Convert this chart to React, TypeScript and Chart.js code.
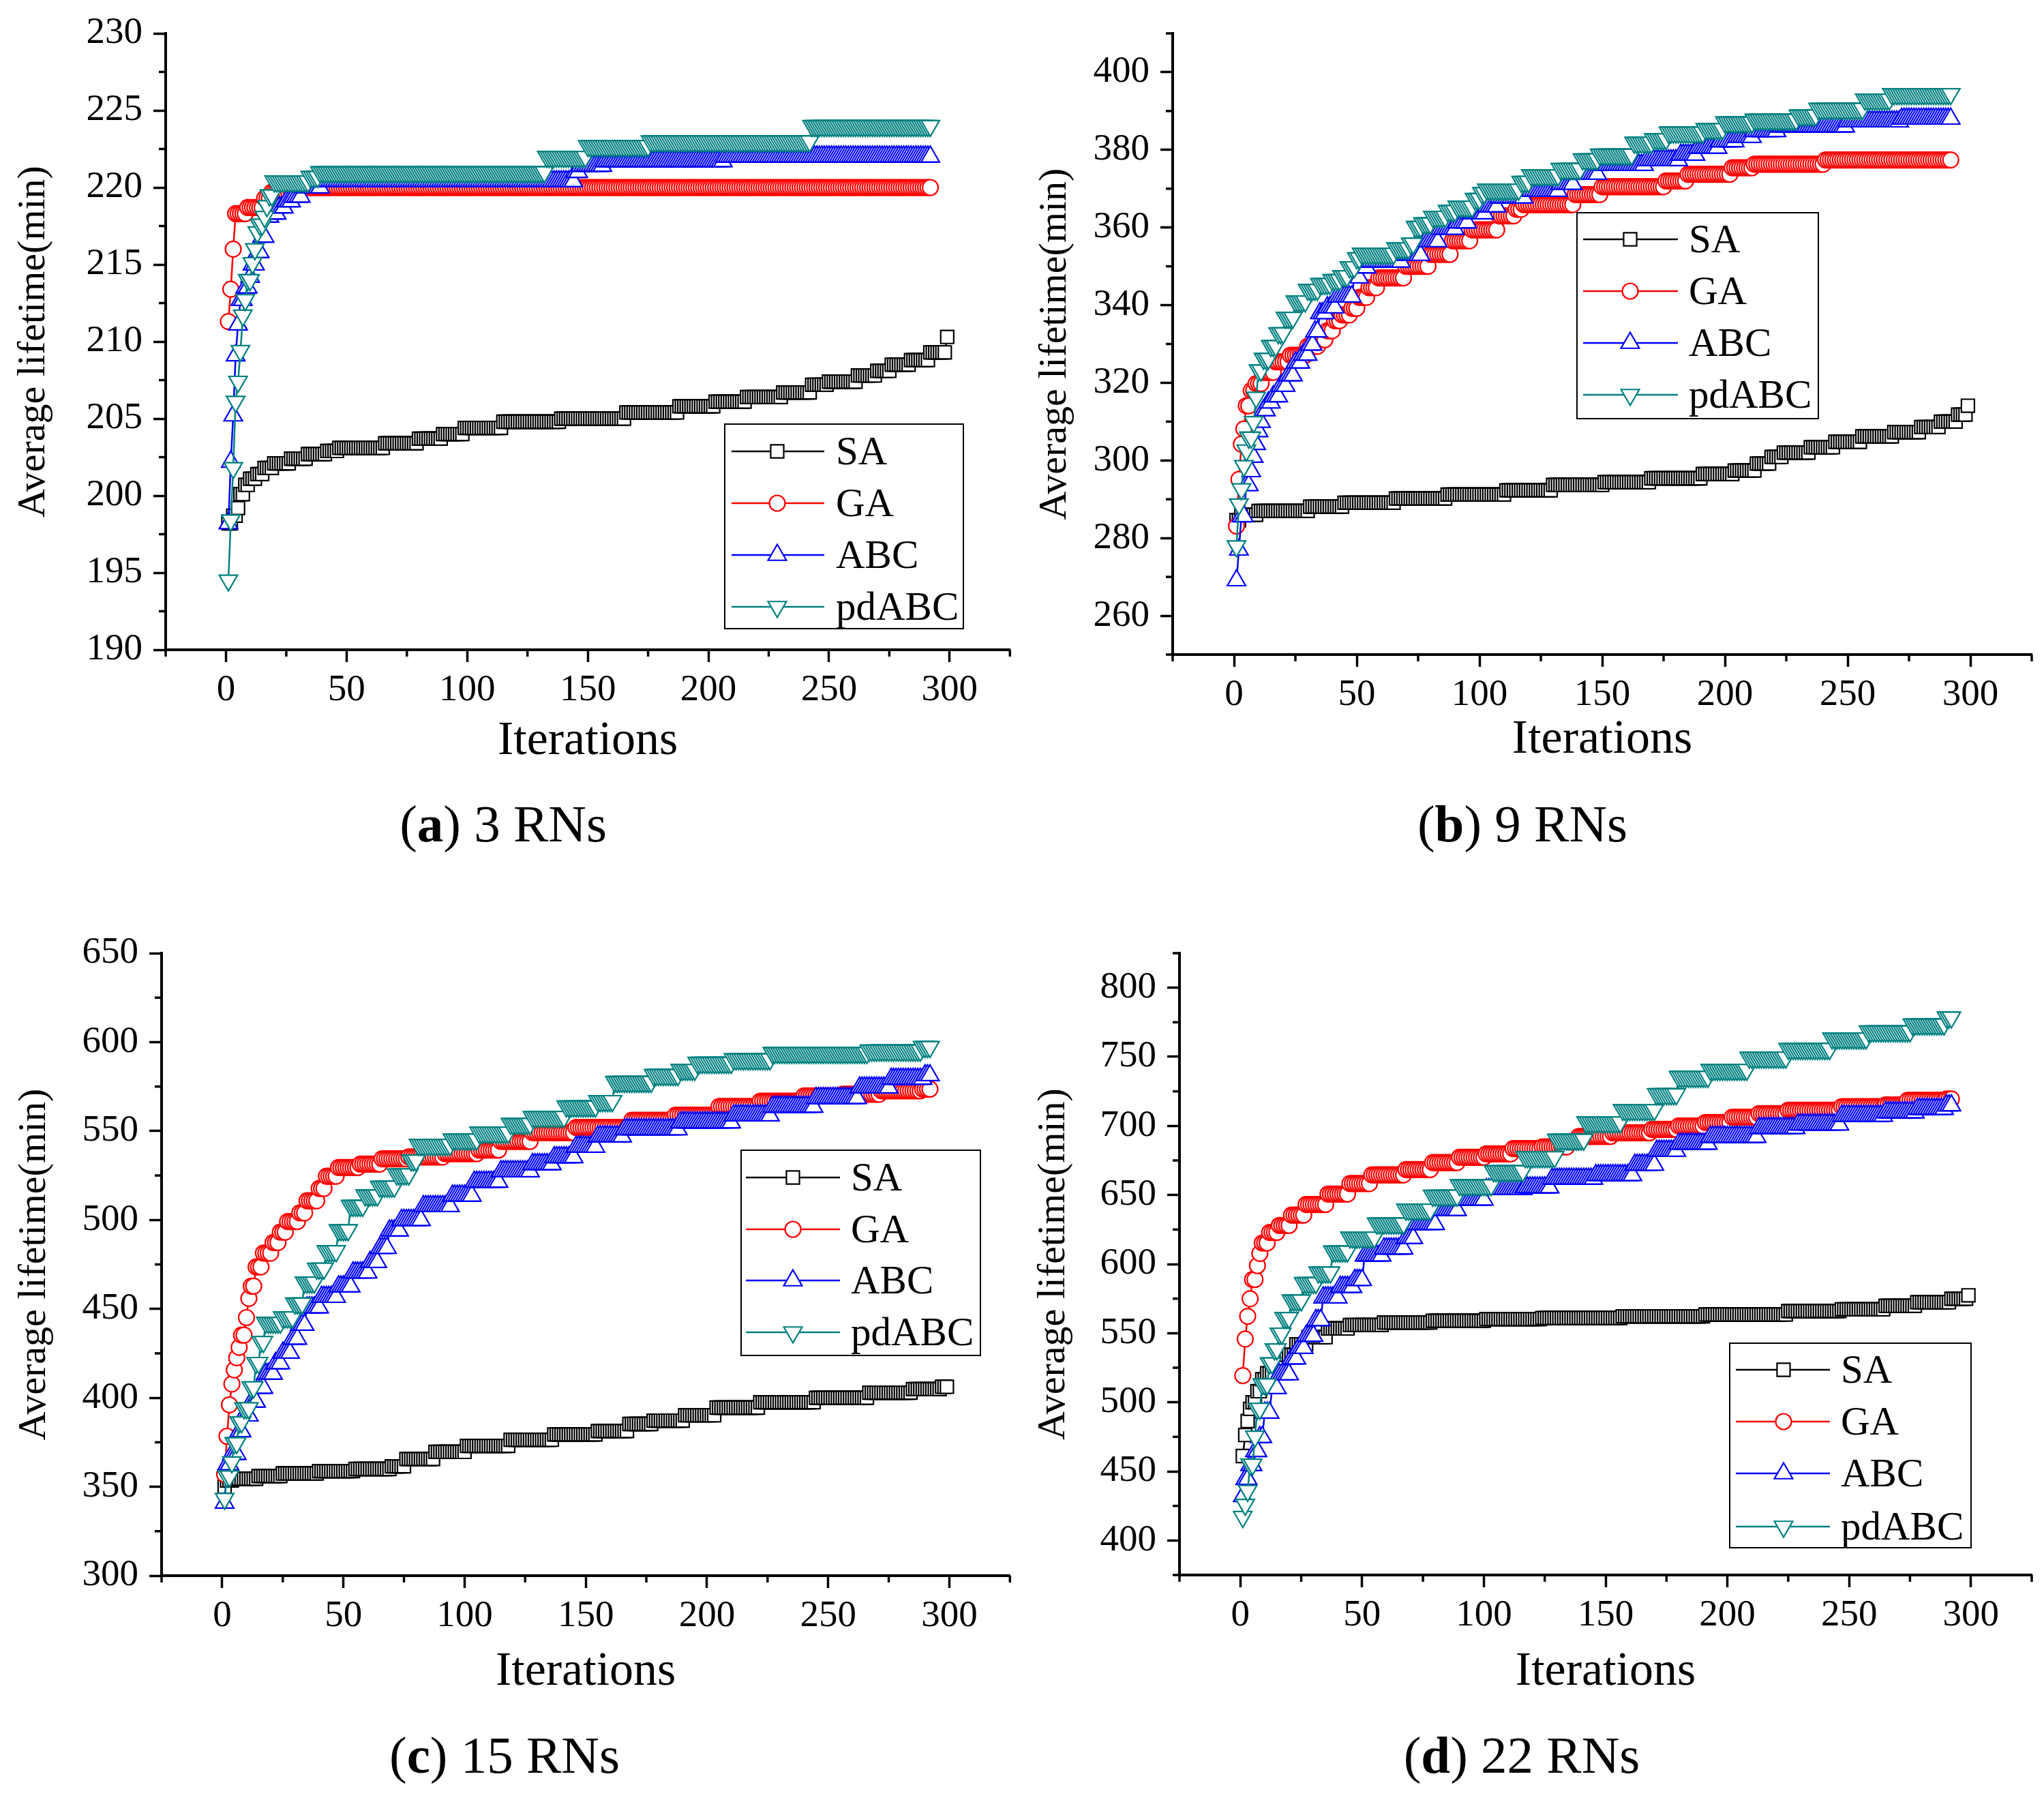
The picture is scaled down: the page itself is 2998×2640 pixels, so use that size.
import React, { useEffect, useRef } from 'react';
import { Chart, registerables } from 'chart.js';

Chart.register(...registerables);

const FONT = "'Liberation Serif', 'Times New Roman', serif";

// ---------- shared axis data ----------
const X_TICKS = [0, 50, 100, 150, 200, 250, 300];
const X_MINOR = [-25, 25, 75, 125, 175, 225, 275, 325];
const SERIES_NAMES = ['SA', 'GA', 'ABC', 'pdABC'];
const SERIES_END = [299, 292, 292, 292];

// ---------- (a) 3 RNs ----------
const A_Y_TICKS = [190, 195, 200, 205, 210, 215, 220, 225, 230];
const A_Y_MINOR = [192.5, 197.5, 202.5, 207.5, 212.5, 217.5, 222.5, 227.5];
// [iteration, value] where the best-so-far value changes
const A_SA = [[1,198.2],[3,198.7],[5,199.2],[6,200.1],[8,200.7],[10,201.1],[13,201.4],[16,201.8],[20,202.1],[27,202.4],[34,202.7],[42,202.9],[47,203.1],[66,203.4],[80,203.7],[90,204.0],[99,204.4],[115,204.8],[139,205.0],[166,205.4],[188,205.8],[203,206.1],[216,206.4],[231,206.7],[243,207.2],[250,207.4],[262,207.8],[270,208.1],[276,208.5],[284,208.8],[292,209.3],[299,210.3]];
const A_GA = [[1,211.3],[2,213.4],[3,216.0],[4,218.3],[9,218.7],[16,219.3],[19,219.7],[30,220.0]];
const A_ABC = [[1,198.2],[2,202.2],[3,205.2],[4,209.1],[5,211.1],[6,212.7],[8,213.5],[10,214.2],[11,215.0],[13,215.8],[15,216.8],[17,218.1],[19,218.3],[22,218.7],[25,219.1],[28,219.4],[32,220.0],[40,220.4],[145,221.0],[147,221.4],[157,221.7],[207,222.0]];
const A_PD = [[1,194.5],[2,198.4],[3,201.8],[4,206.1],[5,207.4],[6,209.4],[7,211.7],[8,212.7],[9,214.0],[11,215.1],[12,216.0],[13,217.1],[14,217.6],[16,218.1],[17,218.8],[18,219.5],[20,220.4],[35,220.7],[39,221.0],[133,222.0],[150,222.7],[176,223.0],[243,224.0]];

// ---------- (b) 9 RNs ----------
const B_Y_TICKS = [260, 280, 300, 320, 340, 360, 380, 400];
const B_Y_MINOR = [250, 270, 290, 310, 330, 350, 370, 390, 410];
const B_SA = [[1,284.6],[3,286.0],[10,287.0],[31,288.1],[45,289.1],[66,290.2],[87,291.2],[111,292.3],[130,293.7],[151,294.4],[170,295.4],[191,296.5],[204,297.4],[213,299.2],[219,300.9],[224,302.0],[235,303.4],[245,304.8],[256,306.2],[269,307.3],[280,308.6],[288,310.0],[295,311.8],[299,314.1]];
const B_GA = [[1,283.1],[2,295.1],[3,304.2],[4,308.1],[5,314.1],[7,318.0],[9,319.8],[12,322.7],[17,325.4],[23,327.1],[30,329.4],[35,331.1],[38,333.4],[41,336.0],[44,337.5],[48,339.2],[51,342.0],[55,344.5],[59,347.0],[70,350.0],[80,353.1],[89,356.6],[97,359.4],[108,363.0],[115,364.7],[118,365.9],[139,368.5],[150,370.5],[176,372.0],[185,373.7],[203,375.4],[212,376.3],[241,377.4]];
const B_ABC = [[1,269.1],[2,277.0],[3,285.6],[5,293.6],[7,297.2],[8,300.9],[9,304.2],[10,307.5],[11,309.9],[12,312.9],[14,314.9],[16,316.5],[19,319.2],[22,321.9],[25,325.2],[28,327.2],[31,329.8],[33,333.2],[35,337.9],[38,339.4],[42,342.2],[49,347.1],[52,349.7],[55,351.2],[69,352.9],[77,356.4],[84,359.6],[91,361.3],[96,363.6],[103,365.4],[108,367.7],[119,369.4],[133,371.2],[139,373.8],[149,376.1],[168,377.3],[182,378.7],[189,380.5],[198,382.2],[205,383.3],[212,384.8],[222,386.0],[250,387.3],[272,388.0]];
const B_PD = [[1,277.9],[2,288.7],[3,292.6],[4,298.6],[5,302.6],[6,305.9],[8,309.9],[9,316.2],[10,323.2],[12,326.2],[15,329.5],[18,332.8],[21,336.8],[25,341.0],[30,344.0],[35,345.5],[40,346.5],[44,347.5],[47,349.8],[50,352.1],[52,353.3],[66,354.7],[72,355.9],[74,360.2],[77,361.1],[81,362.8],[87,364.3],[91,365.4],[98,367.4],[101,368.9],[103,369.8],[117,371.8],[121,373.5],[133,375.1],[142,377.6],[149,378.8],[163,381.9],[171,382.8],[177,384.5],[192,385.4],[200,387.1],[212,387.8],[230,388.9],[238,390.6],[257,393.0],[268,394.4]];

// ---------- (c) 15 RNs ----------
const C_Y_TICKS = [300, 350, 400, 450, 500, 550, 600, 650];
const C_Y_MINOR = [325, 375, 425, 475, 525, 575, 625];
const C_SA = [[1,350.0],[2,353.5],[5,354.5],[15,356.0],[25,357.5],[40,358.8],[55,360.0],[70,361.5],[76,365.6],[88,369.6],[101,373.0],[119,376.4],[137,379.4],[155,381.3],[168,385.3],[178,387.2],[191,390.2],[204,394.5],[222,397.5],[245,400.0],[267,402.9],[285,404.9],[297,406.2]];
const C_GA = [[1,357.0],[2,378.4],[3,396.1],[4,407.8],[5,415.7],[6,422.5],[7,428.4],[8,435.3],[10,445.1],[11,455.9],[12,462.8],[14,473.6],[17,481.4],[21,487.3],[24,493.2],[27,499.1],[32,504.0],[35,510.8],[40,517.7],[43,524.6],[48,529.5],[57,531.4],[66,534.4],[77,535.4],[92,537.3],[106,539.3],[115,544.2],[128,549.1],[146,552.0],[169,556.0],[187,558.9],[205,563.8],[222,566.8],[240,569.7],[256,570.7],[272,572.6],[289,573.6]];
const C_ABC = [[1,341.0],[2,362.5],[4,368.4],[7,381.1],[9,390.0],[12,397.8],[15,405.6],[18,413.5],[22,419.4],[25,425.3],[29,433.2],[32,441.0],[35,450.8],[41,456.7],[48,462.6],[54,470.4],[61,476.3],[65,484.2],[69,494.0],[74,499.9],[83,507.7],[95,513.6],[104,521.4],[115,527.3],[128,531.3],[137,535.2],[146,541.1],[155,546.9],[166,550.9],[189,554.8],[211,558.7],[227,563.6],[245,568.5],[263,574.4],[276,579.3],[290,581.3]];
const C_PD = [[1,343.3],[2,355.9],[4,363.8],[5,374.6],[7,386.3],[9,394.2],[12,406.0],[14,419.7],[16,431.5],[18,442.3],[25,445.3],[30,453.1],[34,464.9],[39,472.7],[43,482.5],[48,494.3],[53,508.0],[59,513.9],[65,518.8],[72,525.7],[78,533.5],[81,542.3],[95,545.3],[106,549.2],[119,554.1],[128,558.0],[142,563.9],[155,566.9],[162,577.7],[178,581.6],[189,584.5],[196,588.4],[211,590.4],[227,594.0],[267,595.3],[289,597.3]];

// ---------- (d) 22 RNs ----------
const D_Y_TICKS = [400, 450, 500, 550, 600, 650, 700, 750, 800];
const D_Y_MINOR = [375, 425, 475, 525, 575, 625, 675, 725, 775, 825];
const D_SA = [[1,461.1],[2,476.3],[3,486.4],[4,495.2],[5,500.0],[7,508.0],[9,516.7],[11,521.0],[14,526.8],[18,534.4],[23,542.0],[28,547.1],[36,553.4],[45,555.9],[59,557.7],[79,559.0],[101,560.2],[124,561.0],[157,562.2],[191,563.5],[225,566.0],[247,567.3],[265,569.8],[278,572.4],[292,574.9],[299,577.4]];
const D_GA = [[1,519.3],[2,545.8],[3,562.2],[4,574.9],[5,588.8],[7,598.9],[8,607.7],[9,615.3],[12,622.9],[16,628.0],[21,635.5],[27,643.1],[36,650.7],[45,658.3],[54,664.6],[68,668.4],[79,673.5],[90,677.3],[101,679.8],[112,683.6],[124,684.8],[135,688.6],[139,692.4],[153,695.0],[169,697.5],[180,700.0],[191,702.5],[202,706.3],[213,708.9],[225,711.4],[247,713.9],[265,715.2],[274,718.5],[290,719.5]];
const D_ABC = [[1,432.0],[2,444.4],[4,454.5],[6,464.6],[8,474.7],[10,492.4],[13,510.1],[16,520.2],[21,531.6],[24,539.2],[27,548.0],[31,559.4],[34,575.8],[41,583.4],[47,588.4],[51,606.1],[59,611.2],[68,618.8],[72,628.9],[81,639.0],[90,646.6],[101,654.2],[117,655.4],[128,661.7],[146,664.3],[162,671.8],[171,681.9],[180,687.0],[193,692.0],[213,698.4],[229,700.9],[247,707.2],[265,709.7],[278,712.2],[290,714.8]];
const D_PD = [[1,417.1],[2,425.9],[3,436.0],[4,455.0],[6,475.2],[7,495.4],[9,513.1],[12,528.3],[14,538.4],[16,549.8],[18,561.1],[21,573.8],[26,586.4],[32,594.0],[38,609.2],[45,619.3],[56,629.4],[68,639.5],[79,649.6],[90,657.2],[104,667.3],[117,677.5],[130,690.1],[142,702.7],[157,711.6],[171,723.0],[180,735.6],[193,740.7],[209,749.5],[225,755.8],[243,763.4],[258,768.5],[276,773.5],[290,778.6]];

// ---------- styles & layout (not data) ----------
const STYLES = [
  { color: '#000000', point: 'rect', radius: 13.5, rotation: 0 },
  { color: '#FF0000', point: 'circle', radius: 11.5, rotation: 0 },
  { color: '#0000FF', point: 'triangle', radius: 15.5, rotation: 0 },
  { color: '#008080', point: 'triangle', radius: 15.5, rotation: 180 },
];

const CW = 1499;
const CH = 1320;

const PANELS = [
  {
    key: 'a', num: '3 RNs', left: 0, top: 0,
    yMin: 190, yMax: 230, yTicks: A_Y_TICKS, yMinor: A_Y_MINOR,
    series: [A_SA, A_GA, A_ABC, A_PD],
    area: { left: 243, right: 1486, top: 46, bottom: 953 },
    yTitlePad: 15, xTitlePad: 190,
    legend: { box: [1063, 622, 1413, 922], rows: [662, 738, 814, 890], line: [1073, 1209], mark: 1140, text: 1226 },
    caption: { cx: 738, base: 1234 },
  },
  {
    key: 'b', num: '9 RNs', left: 1499, top: 0,
    yMin: 250, yMax: 410, yTicks: B_Y_TICKS, yMinor: B_Y_MINOR,
    series: [B_SA, B_GA, B_ABC, B_PD],
    area: { left: 221, right: 1481, top: 38, bottom: 960 },
    yTitlePad: 14, xTitlePad: 192,
    legend: { box: [814, 312, 1168, 614], rows: [351, 427, 503, 579], line: [823, 962], mark: 892, text: 978 },
    caption: { cx: 734, base: 1234 },
  },
  {
    key: 'c', num: '15 RNs', left: 0, top: 1320,
    yMin: 300, yMax: 650, yTicks: C_Y_TICKS, yMinor: C_Y_MINOR,
    series: [C_SA, C_GA, C_ABC, C_PD],
    area: { left: 237, right: 1486, top: 78, bottom: 991 },
    yTitlePad: 16, xTitlePad: 145,
    legend: { box: [1087, 367, 1438, 668], rows: [407, 483, 558, 634], line: [1094, 1232], mark: 1163, text: 1248 },
    caption: { cx: 740, base: 1280 },
  },
  {
    key: 'd', num: '22 RNs', left: 1499, top: 1320,
    yMin: 375, yMax: 825, yTicks: D_Y_TICKS, yMinor: D_Y_MINOR,
    series: [D_SA, D_GA, D_ABC, D_PD],
    area: { left: 231, right: 1481, top: 78, bottom: 990 },
    yTitlePad: 12, xTitlePad: 145,
    legend: { box: [1038, 650, 1392, 950], rows: [689, 765, 841, 919], line: [1047, 1185], mark: 1117, text: 1201 },
    caption: { cx: 733, base: 1280 },
  },
];

function expand(bp: number[][], end: number) {
  const out: { x: number; y: number }[] = [];
  let k = 0;
  for (let it = bp[0][0]; it <= end; it++) {
    while (k + 1 < bp.length && bp[k + 1][0] <= it) k++;
    out.push({ x: it, y: bp[k][1] });
  }
  return out;
}

function drawMarker(ctx: CanvasRenderingContext2D, st: any, x: number, y: number) {
  const r = st.radius;
  ctx.beginPath();
  if (st.point === 'circle') {
    ctx.arc(x, y, r, 0, Math.PI * 2);
  } else if (st.point === 'rect') {
    const s = r * Math.SQRT1_2;
    ctx.rect(x - s, y - s, 2 * s, 2 * s);
  } else {
    let rad = (st.rotation * Math.PI) / 180;
    ctx.moveTo(x + Math.sin(rad) * r, y - Math.cos(rad) * r);
    for (let i = 0; i < 2; i++) {
      rad += (2 * Math.PI) / 3;
      ctx.lineTo(x + Math.sin(rad) * r, y - Math.cos(rad) * r);
    }
  }
  ctx.closePath();
  ctx.fillStyle = '#ffffff';
  ctx.fill();
  ctx.strokeStyle = st.color;
  ctx.lineWidth = 2.2;
  ctx.stroke();
}

function Panel({ cfg }: { cfg: any }) {
  const ref = useRef<HTMLCanvasElement | null>(null);
  useEffect(() => {
    if (!ref.current) return;
    const datasets = cfg.series.map((bp: number[][], i: number) => {
      const st = STYLES[i];
      return {
        label: SERIES_NAMES[i],
        data: expand(bp, SERIES_END[i]),
        borderColor: st.color,
        borderWidth: 2.5,
        pointStyle: st.point,
        pointRadius: st.radius,
        pointRotation: st.rotation,
        pointBorderColor: st.color,
        pointBackgroundColor: '#ffffff',
        pointBorderWidth: 2.2,
        tension: 0,
        fill: false,
        clip: false,
        order: 3 - i,
      };
    });

    const decor = {
      id: 'decor' + cfg.key,
      afterDraw(chart: any) {
        const ctx: CanvasRenderingContext2D = chart.ctx;
        const xs = chart.scales.x;
        const ys = chart.scales.y;
        const ca = chart.chartArea;
        ctx.save();
        // minor ticks
        ctx.strokeStyle = '#000';
        ctx.lineWidth = 3.5;
        X_MINOR.forEach((v) => {
          const px = xs.getPixelForValue(v);
          ctx.beginPath();
          ctx.moveTo(px, ca.bottom);
          ctx.lineTo(px, ca.bottom + 10);
          ctx.stroke();
        });
        cfg.yMinor.forEach((v: number) => {
          const py = ys.getPixelForValue(v);
          ctx.beginPath();
          ctx.moveTo(ca.left - 10, py);
          ctx.lineTo(ca.left, py);
          ctx.stroke();
        });
        // legend
        const lg = cfg.legend;
        ctx.fillStyle = '#ffffff';
        ctx.fillRect(lg.box[0], lg.box[1], lg.box[2] - lg.box[0], lg.box[3] - lg.box[1]);
        ctx.strokeStyle = '#000';
        ctx.lineWidth = 2;
        ctx.strokeRect(lg.box[0], lg.box[1], lg.box[2] - lg.box[0], lg.box[3] - lg.box[1]);
        SERIES_NAMES.forEach((name, i) => {
          const st = STYLES[i];
          const yy = lg.rows[i];
          ctx.strokeStyle = st.color;
          ctx.lineWidth = 2.5;
          ctx.beginPath();
          ctx.moveTo(lg.line[0], yy);
          ctx.lineTo(lg.line[1], yy);
          ctx.stroke();
          drawMarker(ctx, st, lg.mark, yy);
          ctx.fillStyle = '#000';
          ctx.font = `59px ${FONT}`;
          ctx.textAlign = 'left';
          ctx.textBaseline = 'alphabetic';
          ctx.fillText(name, lg.text, yy + 19);
        });
        // caption "(a) 3 RNs"
        const parts = [
          { t: '(', bold: false },
          { t: cfg.key, bold: true },
          { t: ') ' + cfg.num, bold: false },
        ];
        let total = 0;
        parts.forEach((p) => {
          ctx.font = `${p.bold ? 'bold ' : ''}77px ${FONT}`;
          total += ctx.measureText(p.t).width;
        });
        let cx = cfg.caption.cx - total / 2;
        ctx.fillStyle = '#000';
        ctx.textBaseline = 'alphabetic';
        ctx.textAlign = 'left';
        parts.forEach((p) => {
          ctx.font = `${p.bold ? 'bold ' : ''}77px ${FONT}`;
          ctx.fillText(p.t, cx, cfg.caption.base);
          cx += ctx.measureText(p.t).width;
        });
        ctx.restore();
      },
    };

    const chart = new Chart(ref.current, {
      type: 'line',
      data: { datasets },
      plugins: [decor],
      options: {
        responsive: false,
        animation: false,
        devicePixelRatio: 1,
        layout: { padding: { left: 0, top: cfg.area.top, right: CW - cfg.area.right, bottom: 0 } },
        plugins: { legend: { display: false }, tooltip: { enabled: false } },
        scales: {
          x: {
            type: 'linear',
            min: -25,
            max: 325,
            afterBuildTicks: (s: any) => { s.ticks = X_TICKS.map((v) => ({ value: v })); },
            afterFit: (s: any) => { s.height = CH - cfg.area.bottom; },
            ticks: { font: { size: 55, family: FONT }, color: '#000', padding: 9, maxRotation: 0, autoSkip: false },
            grid: { display: true, drawOnChartArea: false, drawTicks: true, tickLength: 18, tickWidth: 3.5, tickColor: '#000' },
            border: { display: true, color: '#000', width: 4 },
            title: { display: true, text: 'Iterations', color: '#000', font: { size: 70, family: FONT }, padding: { top: 0, bottom: cfg.xTitlePad } },
          },
          y: {
            type: 'linear',
            min: cfg.yMin,
            max: cfg.yMax,
            afterBuildTicks: (s: any) => { s.ticks = cfg.yTicks.map((v: number) => ({ value: v })); },
            afterFit: (s: any) => { s.width = cfg.area.left; },
            ticks: { font: { size: 55, family: FONT }, color: '#000', padding: 16, autoSkip: false },
            grid: { display: true, drawOnChartArea: false, drawTicks: true, tickLength: 18, tickWidth: 3.5, tickColor: '#000' },
            border: { display: true, color: '#000', width: 4 },
            title: { display: true, text: 'Average lifetime(min)', color: '#000', font: { size: 58, family: FONT }, padding: { top: cfg.yTitlePad, bottom: 0 } },
          },
        },
      } as any,
    });
    return () => chart.destroy();
  }, [cfg]);

  return (
    <canvas
      ref={ref}
      width={CW}
      height={CH}
      style={{ position: 'absolute', left: cfg.left, top: cfg.top, width: CW, height: CH, display: 'block' }}
    />
  );
}

export default function App() {
  return (
    <div style={{ position: 'absolute', left: 0, top: 0, width: 2998, height: 2640, background: '#ffffff', overflow: 'hidden' }}>
      {PANELS.map((p) => (
        <Panel key={p.key} cfg={p} />
      ))}
    </div>
  );
}
